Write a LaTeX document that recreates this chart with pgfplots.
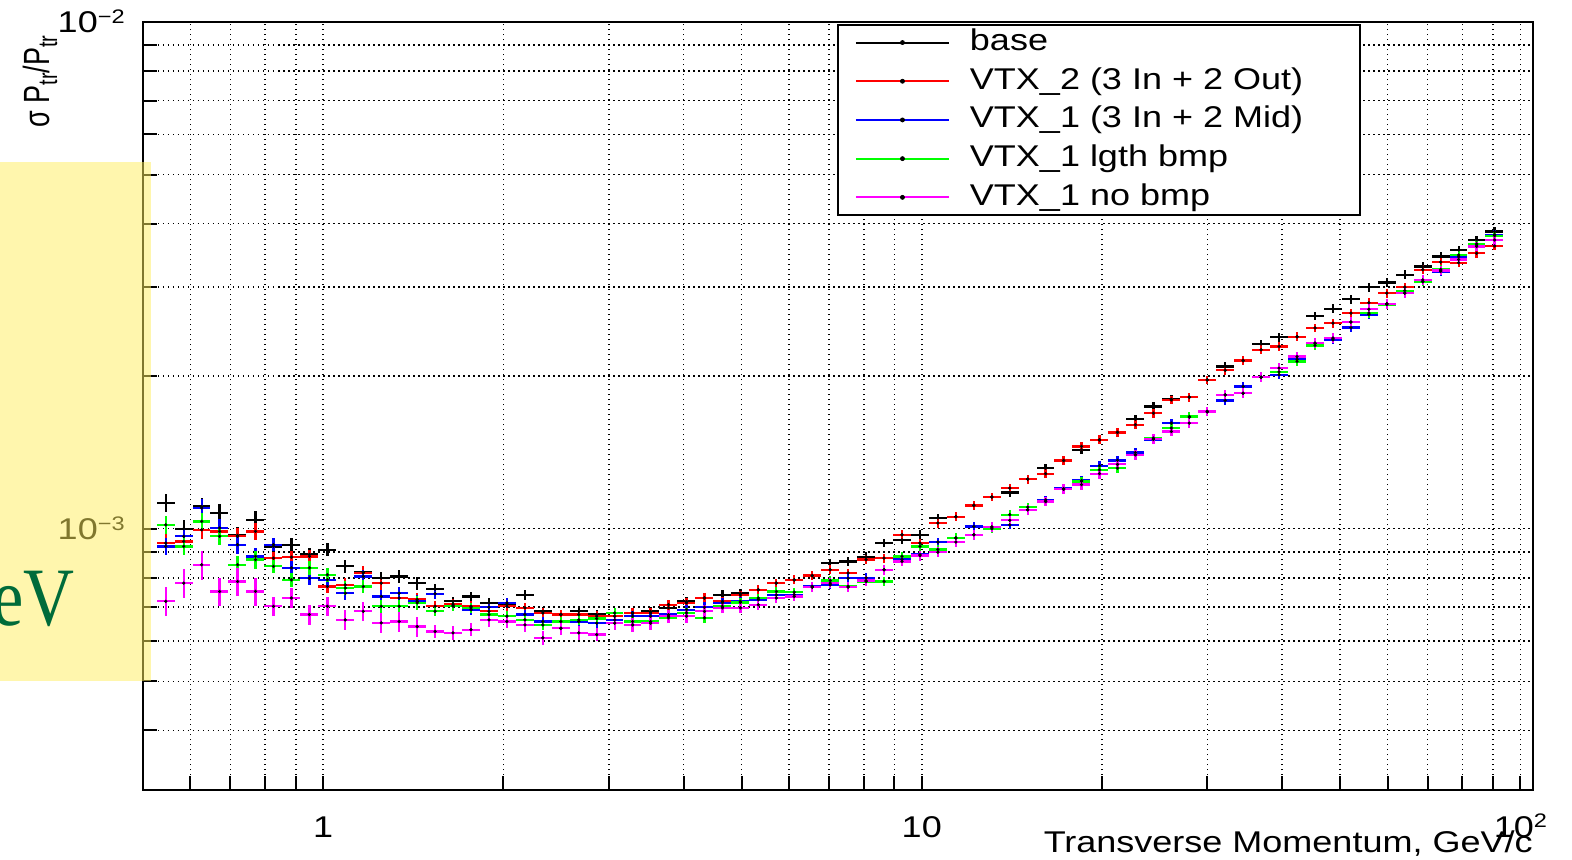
\documentclass[border=0pt]{standalone}
\usepackage{fontspec}
\setmainfont{Liberation Sans}
\newfontfamily\rootfont[FakeStretch=1.2]{Liberation Sans}
\newfontfamily\slidefont{Liberation Serif}
\usepackage{pgfplots}
\usepackage{pgfplotstable}
\pgfplotsset{compat=1.18}
\definecolor{rootred}{RGB}{255,0,0}
\definecolor{rootblue}{RGB}{0,0,255}
\definecolor{rootgreen}{RGB}{0,255,0}
\definecolor{rootmagenta}{RGB}{255,0,255}
\definecolor{slideyellow}{HTML}{FFEE5C}
\definecolor{slidegreen}{HTML}{006B3A}

\newcommand\rsup[1]{\raisebox{4.6pt}{\fontsize{9.8}{11}\selectfont #1}}
\newcommand\rsub[1]{\raisebox{-3pt}{\fontsize{10}{12}\selectfont #1}}
\newcommand\labfont{\rootfont\fontsize{15}{18}\selectfont}

% pT bin centre, rel. y error (4 series), rel. y error (no bmp), then sigma(pT)/pT
\pgfplotstableread{
x e em base vtx2 vtx1 lgth nobmp
0.5458 0.04 0.065 1.124e-3 0.937e-3 0.923e-3 1.018e-3 0.719e-3
0.5848 0.04 0.065 1.000e-3 0.944e-3 0.966e-3 0.923e-3 0.781e-3
0.6266 0.04 0.065 1.106e-3 0.995e-3 1.099e-3 1.034e-3 0.849e-3
0.6714 0.04 0.065 1.074e-3 0.988e-3 1.003e-3 0.966e-3 0.752e-3
0.7194 0.04 0.065 0.970e-3 0.966e-3 0.930e-3 0.849e-3 0.787e-3
0.7709 0.04 0.065 1.042e-3 0.988e-3 0.882e-3 0.869e-3 0.752e-3
0.8260 0.03 0.045 0.923e-3 0.875e-3 0.930e-3 0.843e-3 0.703e-3
0.8851 0.03 0.045 0.930e-3 0.879e-3 0.837e-3 0.793e-3 0.730e-3
0.9484 0.03 0.045 0.890e-3 0.882e-3 0.799e-3 0.837e-3 0.677e-3
1.0162 0.03 0.045 0.909e-3 0.769e-3 0.793e-3 0.811e-3 0.703e-3
1.0889 0.03 0.045 0.843e-3 0.775e-3 0.746e-3 0.764e-3 0.661e-3
1.1668 0.03 0.045 0.820e-3 0.818e-3 0.805e-3 0.769e-3 0.687e-3
1.2503 0.03 0.045 0.799e-3 0.781e-3 0.735e-3 0.703e-3 0.652e-3
1.3397 0.03 0.045 0.805e-3 0.730e-3 0.746e-3 0.703e-3 0.656e-3
1.4355 0.03 0.045 0.781e-3 0.725e-3 0.719e-3 0.714e-3 0.641e-3
1.5382 0.022 0.03 0.760e-3 0.703e-3 0.744e-3 0.687e-3 0.627e-3
1.6482 0.022 0.03 0.719e-3 0.710e-3 0.705e-3 0.703e-3 0.623e-3
1.7660 0.022 0.03 0.735e-3 0.703e-3 0.692e-3 0.698e-3 0.632e-3
1.8923 0.022 0.03 0.714e-3 0.687e-3 0.700e-3 0.677e-3 0.661e-3
2.0277 0.022 0.03 0.710e-3 0.703e-3 0.714e-3 0.672e-3 0.656e-3
2.1727 0.022 0.03 0.741e-3 0.698e-3 0.677e-3 0.661e-3 0.646e-3
2.3281 0.022 0.03 0.687e-3 0.682e-3 0.656e-3 0.646e-3 0.609e-3
2.4946 0.022 0.03 0.677e-3 0.677e-3 0.636e-3 0.656e-3 0.636e-3
2.6730 0.022 0.03 0.687e-3 0.677e-3 0.656e-3 0.661e-3 0.623e-3
2.8641 0.022 0.03 0.677e-3 0.672e-3 0.651e-3 0.665e-3 0.618e-3
3.0690 0.022 0.03 0.672e-3 0.672e-3 0.661e-3 0.682e-3 0.651e-3
3.2885 0.022 0.03 0.682e-3 0.682e-3 0.672e-3 0.656e-3 0.646e-3
3.5237 0.022 0.03 0.687e-3 0.682e-3 0.672e-3 0.656e-3 0.651e-3
3.7757 0.022 0.03 0.698e-3 0.708e-3 0.677e-3 0.667e-3 0.672e-3
4.0458 0.022 0.03 0.719e-3 0.714e-3 0.692e-3 0.682e-3 0.672e-3
4.3351 0.022 0.03 0.730e-3 0.730e-3 0.700e-3 0.667e-3 0.687e-3
4.6452 0.02 0.022 0.741e-3 0.719e-3 0.714e-3 0.703e-3 0.698e-3
4.9774 0.02 0.022 0.746e-3 0.740e-3 0.719e-3 0.715e-3 0.698e-3
5.3333 0.02 0.022 0.758e-3 0.758e-3 0.724e-3 0.730e-3 0.708e-3
5.7148 0.02 0.022 0.781e-3 0.781e-3 0.740e-3 0.752e-3 0.730e-3
6.1235 0.02 0.022 0.793e-3 0.793e-3 0.741e-3 0.750e-3 0.735e-3
6.5615 0.02 0.022 0.808e-3 0.808e-3 0.770e-3 0.767e-3 0.767e-3
7.0307 0.02 0.022 0.856e-3 0.830e-3 0.775e-3 0.790e-3 0.781e-3
7.5336 0.02 0.022 0.862e-3 0.818e-3 0.799e-3 0.770e-3 0.767e-3
8.0724 0.02 0.022 0.880e-3 0.869e-3 0.800e-3 0.787e-3 0.790e-3
8.6497 0.02 0.022 0.937e-3 0.875e-3 0.830e-3 0.787e-3 0.830e-3
9.2683 0.02 0.022 0.950e-3 0.973e-3 0.870e-3 0.882e-3 0.862e-3
9.9312 0.02 0.022 0.973e-3 0.937e-3 0.889e-3 0.923e-3 0.885e-3
10.641 0.02 0.022 1.050e-3 1.026e-3 0.941e-3 0.910e-3 0.899e-3
11.402 0.02 0.022 1.056e-3 1.056e-3 0.958e-3 0.960e-3 0.941e-3
12.218 0.02 0.022 1.112e-3 1.112e-3 1.010e-3 0.973e-3 0.973e-3
13.092 0.02 0.022 1.155e-3 1.155e-3 1.008e-3 1.000e-3 1.008e-3
14.028 0.02 0.022 1.179e-3 1.203e-3 1.018e-3 1.066e-3 1.039e-3
15.031 0.02 0.022 1.253e-3 1.253e-3 1.090e-3 1.103e-3 1.090e-3
16.106 0.02 0.022 1.317e-3 1.284e-3 1.140e-3 1.132e-3 1.132e-3
17.258 0.02 0.022 1.364e-3 1.364e-3 1.200e-3 1.197e-3 1.197e-3
18.493 0.02 0.022 1.431e-3 1.454e-3 1.245e-3 1.240e-3 1.222e-3
19.815 0.02 0.022 1.498e-3 1.498e-3 1.331e-3 1.307e-3 1.284e-3
21.232 0.02 0.022 1.549e-3 1.549e-3 1.364e-3 1.317e-3 1.340e-3
22.751 0.02 0.022 1.645e-3 1.604e-3 1.414e-3 1.400e-3 1.400e-3
24.378 0.02 0.022 1.743e-3 1.691e-3 1.500e-3 1.510e-3 1.503e-3
26.122 0.02 0.022 1.802e-3 1.796e-3 1.616e-3 1.580e-3 1.556e-3
27.990 0.02 0.022 1.818e-3 1.818e-3 1.660e-3 1.665e-3 1.616e-3
29.992 0.02 0.022 1.967e-3 1.967e-3 1.700e-3 1.704e-3 1.704e-3
32.137 0.02 0.022 2.089e-3 2.054e-3 1.791e-3 1.837e-3 1.837e-3
34.435 0.02 0.022 2.147e-3 2.147e-3 1.909e-3 1.851e-3 1.851e-3
36.898 0.02 0.022 2.316e-3 2.255e-3 1.991e-3 1.991e-3 1.991e-3
39.537 0.02 0.022 2.387e-3 2.289e-3 2.013e-3 2.040e-3 2.075e-3
42.364 0.02 0.022 2.393e-3 2.393e-3 2.160e-3 2.139e-3 2.186e-3
45.394 0.02 0.022 2.630e-3 2.490e-3 2.323e-3 2.300e-3 2.323e-3
48.641 0.02 0.022 2.716e-3 2.546e-3 2.360e-3 2.377e-3 2.377e-3
52.119 0.02 0.022 2.838e-3 2.664e-3 2.494e-3 2.558e-3 2.558e-3
55.847 0.02 0.022 2.995e-3 2.792e-3 2.647e-3 2.664e-3 2.711e-3
59.841 0.02 0.022 3.060e-3 2.917e-3 2.780e-3 2.770e-3 2.780e-3
64.121 0.02 0.022 3.170e-3 2.997e-3 2.917e-3 2.950e-3 2.917e-3
68.707 0.02 0.022 3.291e-3 3.245e-3 3.074e-3 3.074e-3 3.098e-3
73.621 0.02 0.022 3.444e-3 3.360e-3 3.220e-3 3.250e-3 3.235e-3
78.886 0.02 0.022 3.550e-3 3.350e-3 3.440e-3 3.470e-3 3.400e-3
84.528 0.02 0.022 3.715e-3 3.498e-3 3.630e-3 3.649e-3 3.605e-3
90.573 0.02 0.022 3.858e-3 3.615e-3 3.802e-3 3.786e-3 3.715e-3
}\pttab

\pgfplotsset{rootpt/.style={only marks, mark=*, mark size=0.6pt,
    mark options={draw=black, fill=black},
    error bars/x dir=both, error bars/x fixed relative=0.0345,
    error bars/y dir=both, error bars/y explicit relative,
    error bars/error mark=none,
    error bars/error bar style={line width=1.15pt}}}

\begin{document}
\begin{tikzpicture}
\begin{axis}[
    at={(0,0)}, anchor=south west,
    scale only axis, width=695pt, height=384pt,
    xmode=log, ymode=log,
    xmin=0.5, xmax=105, ymin=3.05e-4, ymax=1e-2,
    xtick={1,10,100}, xticklabels={1,10,10\rsup{2}},
    minor xtick={0.6,0.7,0.8,0.9,2,3,4,5,6,7,8,9,20,30,40,50,60,70,80,90},
    ytick={1e-3,1e-2}, yticklabels={10\rsup{\char"2212 3},10\rsup{\char"2212 2}},
    minor ytick={4e-4,5e-4,6e-4,7e-4,8e-4,9e-4,2e-3,3e-3,4e-3,5e-3,6e-3,7e-3,8e-3,9e-3},
    grid=both,
    major grid style={black, line width=0.75pt, dash pattern=on 0.75pt off 1.75pt},
    minor grid style={black, line width=0.75pt, dash pattern=on 0.75pt off 1.75pt},
    tick align=inside, tick pos=left,
    major tick length=7pt, minor tick length=7pt,
    tick style={black, line width=1pt},
    axis line style={line width=1.2pt},
    ticklabel style={font=\labfont},
    xticklabel style={anchor=base, inner sep=0pt, yshift=-23.5pt},
    yticklabel style={anchor=base east, inner sep=0pt, xshift=-9pt, yshift=-5.3pt},
    xlabel={Transverse Momentum, GeV/c},
    xlabel style={at={(axis description cs:1,0)}, anchor=base east, inner sep=0pt, yshift=-31pt, font=\labfont},
    legend cell align=left,
    legend style={at={(axis description cs:0.5122,0.9915)}, anchor=north west,
        draw=none, fill=none, inner sep=0pt, outer sep=0pt,
        row sep=5.35pt, column sep=10pt, font=\labfont,
        nodes={inner sep=0pt, text height=11pt, text depth=3pt}},
    legend image code/.code={
        \draw[line width=1pt] (0pt,0pt) -- (46.5pt,0pt);
        \fill[black] (23.25pt,0pt) circle (1pt);},
]
\draw[line width=1.2pt, fill=white] (rel axis cs:0.5,0.9961) rectangle (rel axis cs:0.8755,0.7487);
\addplot[color=black, rootpt] table[x=x, y=base, y error=e] {\pttab};
\addplot[color=rootred, rootpt] table[x=x, y=vtx2, y error=e] {\pttab};
\addplot[color=rootblue, rootpt] table[x=x, y=vtx1, y error=e] {\pttab};
\addplot[color=rootgreen, rootpt] table[x=x, y=lgth, y error=e] {\pttab};
\addplot[color=rootmagenta, rootpt] table[x=x, y=nobmp, y error=em] {\pttab};
\legend{base, VTX\_2 (3 In + 2 Out), VTX\_1 (3 In + 2 Mid), VTX\_1 lgth bmp, VTX\_1 no bmp}
\end{axis}
% y axis title, ROOT style: right-aligned at the top
\node[rotate=90, anchor=base east, inner sep=0pt, font=\fontsize{13.5}{16}\selectfont]
    at (-47pt,377.5pt) {\scalebox{1}[1.35]{σ P\rsub{tr}/P\rsub{tr}}};
% slide overlay on the left
\fill[slideyellow, opacity=0.5] (-71.5pt,54.5pt) rectangle (4pt,314pt);
\node[anchor=base east, inner sep=0pt, text=slidegreen, font=\slidefont\fontsize{41.5}{48}\selectfont]
    at (-34pt,82.5pt) {\scalebox{0.85}[1]{eV}};
\pgfresetboundingbox
\path[use as bounding box] (-71.5pt,-34.5pt) rectangle (714.5pt,395pt);
\end{tikzpicture}
\end{document}
